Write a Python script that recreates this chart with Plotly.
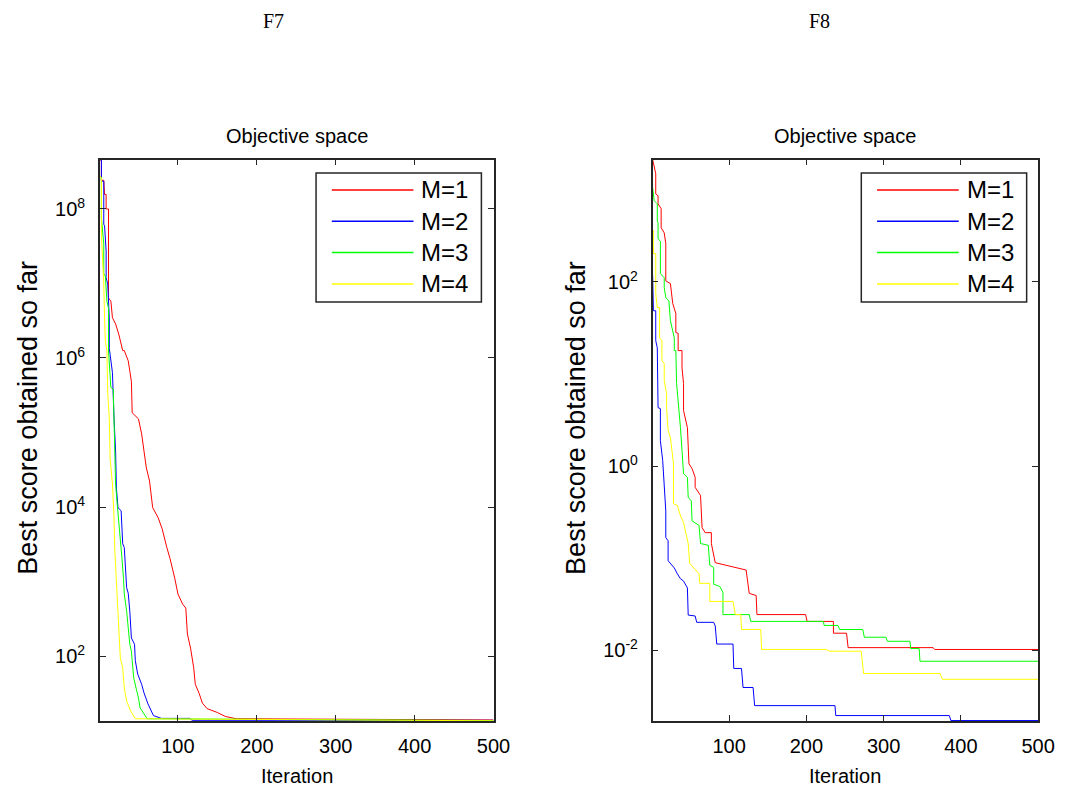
import numpy as np
import plotly.graph_objects as go

W, H = 1076, 797

series_names = ["M=1", "M=2", "M=3", "M=4"]
series_colors = ["#FF0000", "#0000FF", "#00FF00", "#FFFF00"]

# F7: iteration and best score (as log10 exponent)
f7_m1_it = [1, 3, 3, 6, 7, 9, 9, 12, 12, 15, 17, 21, 25, 30, 32, 37, 41, 42, 50, 54, 57, 60,
            64, 68, 75, 80, 86, 90, 96, 100, 106, 110, 112, 116, 120, 122, 127, 131, 137, 150,
            160, 174, 500]
f7_m1_log = [8.664, 8.648, 8.385, 8.385, 8.195, 8.195, 8.000, 8.000, 6.805, 6.762, 6.541, 6.457,
             6.320, 6.099, 6.099, 5.962, 5.688, 5.266, 5.182, 4.982, 4.750, 4.524, 4.350, 3.992,
             3.855, 3.707, 3.454, 3.307, 3.043, 2.833, 2.696, 2.643, 2.295, 2.106, 1.842, 1.621,
             1.495, 1.368, 1.294, 1.242, 1.189, 1.158, 1.142]

f7_m2_it = [1, 3, 3, 6, 6, 7, 9, 9, 11, 12, 13, 13, 15, 17, 19, 21, 22, 24, 28, 30, 32, 35,
            37, 39, 41, 45, 46, 49, 54, 57, 62, 69, 79, 115, 118, 500]
f7_m2_log = [8.664, 8.659, 8.374, 8.374, 7.795, 7.774, 7.437, 7.078, 6.994, 6.762, 6.541, 6.130,
             5.962, 5.804, 5.193, 4.750, 4.255, 3.992, 3.950, 3.507, 3.454, 2.917, 2.843, 2.601,
             2.243, 2.158, 1.937, 1.758, 1.621, 1.505, 1.358, 1.200, 1.163, 1.163, 1.137, 1.137]

f7_m3_it = [1, 3, 3, 5, 6, 6, 8, 10, 12, 12, 15, 18, 19, 21, 23, 26, 29, 31, 32, 35, 39, 41,
            44, 47, 50, 52, 57, 61, 500]
f7_m3_log = [8.448, 8.416, 7.879, 7.611, 7.532, 7.131, 7.100, 6.762, 6.668, 6.099, 5.604, 5.582,
             4.982, 4.308, 4.044, 3.718, 3.317, 3.043, 2.833, 2.601, 2.158, 2.064, 1.705, 1.568,
             1.437, 1.305, 1.221, 1.158, 1.134]

f7_m4_it = [1, 3, 3, 5, 6, 7, 8, 10, 11, 13, 14, 17, 19, 20, 22, 23, 25, 27, 30, 32, 35, 40,
            46, 500]
f7_m4_log = [8.448, 8.416, 7.663, 7.300, 6.994, 6.541, 6.225, 6.099, 5.530, 5.193, 4.655, 4.308,
             3.855, 3.412, 3.043, 2.780, 2.511, 1.974, 1.842, 1.568, 1.395, 1.263, 1.158, 1.131]

# F8
f8_m1_it = [1, 5, 5, 8, 8, 12, 12, 16, 18, 18, 24, 27, 31, 31, 34, 34, 39, 39, 41, 41, 46, 48,
            52, 56, 56, 63, 65, 69, 77, 77, 82, 97, 109, 122, 126, 135, 136, 199, 201, 235,
            235, 252, 254, 364, 366, 500]
f8_m1_log = [3.33, 3.176, 2.956, 2.936, 2.848, 2.796, 2.589, 2.533, 2.415, 2.012, 1.982, 1.766,
             1.657, 1.451, 1.441, 1.254, 1.254, 1.067, 0.895, 0.602, 0.418, 0.024, -0.028,
             -0.123, -0.232, -0.320, -0.669, -0.724, -0.724, -0.842, -1.05, -1.08, -1.10,
             -1.13, -1.383, -1.407, -1.614, -1.614, -1.688, -1.688, -1.816, -1.816, -1.973,
             -1.973, -1.993, -1.993]

f8_m2_it = [1, 2, 5, 5, 7, 8, 11, 11, 14, 16, 18, 18, 21, 21, 29, 33, 37, 41, 46, 47, 56, 58,
            80, 82, 84, 105, 106, 116, 118, 131, 133, 237, 238, 385, 387, 500]
f8_m2_log = [2.071, 1.687, 1.687, 1.362, 1.284, 0.634, 0.624, 0.275, 0.059, -0.300, -0.487,
             -0.778, -0.812, -1.029, -1.107, -1.171, -1.225, -1.250, -1.324, -1.619, -1.629,
             -1.698, -1.698, -1.737, -1.934, -1.934, -2.199, -2.199, -2.406, -2.406, -2.603,
             -2.603, -2.711, -2.711, -2.765, -2.765]

f8_m3_it = [1, 3, 7, 7, 8, 8, 11, 11, 16, 16, 18, 22, 24, 29, 29, 31, 32, 35, 37, 39, 41, 46,
            47, 51, 52, 61, 63, 73, 75, 80, 80, 88, 92, 92, 126, 128, 222, 223, 241, 243, 273,
            275, 303, 305, 334, 335, 346, 347, 500]
f8_m3_log = [3.025, 2.882, 2.848, 2.661, 2.641, 2.469, 2.444, 2.090, 2.046, 1.938, 1.830, 1.795,
             1.579, 1.392, 1.254, 1.254, 0.895, 0.634, 0.418, 0.167, -0.084, -0.123, -0.340,
             -0.379, -0.596, -0.645, -0.842, -0.861, -1.078, -1.102, -1.284, -1.309, -1.373,
             -1.614, -1.614, -1.688, -1.688, -1.732, -1.732, -1.776, -1.776, -1.860, -1.860,
             -1.904, -1.904, -1.983, -1.983, -2.121, -2.121]

f8_m4_it = [1, 2, 2, 5, 5, 7, 10, 10, 13, 13, 16, 16, 19, 19, 21, 24, 28, 28, 33, 36, 41, 45,
            47, 49, 55, 61, 62, 75, 75, 105, 108, 115, 116, 141, 142, 226, 230, 271, 274, 373,
            376, 500]
f8_m4_log = [2.558, 2.558, 2.307, 2.307, 1.874, 1.721, 1.721, 1.392, 1.362, 1.146, 1.112, 0.929,
             0.787, 0.634, 0.385, 0.310, 0.024, -0.409, -0.428, -0.517, -0.615, -0.778, -0.842,
             -1.058, -1.117, -1.171, -1.275, -1.275, -1.471, -1.471, -1.614, -1.614, -1.776,
             -1.776, -1.993, -1.993, -2.012, -2.012, -2.254, -2.254, -2.317, -2.317]

x_ticks = [100, 200, 300, 400, 500]
f7_yticks = [1e2, 1e4, 1e6, 1e8]
f7_yticktext = ["10<sup>2</sup>", "10<sup>4</sup>", "10<sup>6</sup>", "10<sup>8</sup>"]
f8_yticks = [1e-2, 1e0, 1e2]
f8_yticktext = ["10<sup>-2</sup>", "10<sup>0</sup>", "10<sup>2</sup>"]


def px(v):
    return v / W


def py(v):
    return 1 - v / H


SANS = "Liberation Sans, Arial, sans-serif"
SERIF = "Liberation Serif, Times New Roman, serif"

fig = go.Figure()

panels = [
    ("x", "y", [(f7_m1_it, f7_m1_log), (f7_m2_it, f7_m2_log), (f7_m3_it, f7_m3_log), (f7_m4_it, f7_m4_log)]),
    ("x2", "y2", [(f8_m1_it, f8_m1_log), (f8_m2_it, f8_m2_log), (f8_m3_it, f8_m3_log), (f8_m4_it, f8_m4_log)]),
]
for xa, ya, data in panels:
    for (it, lg), name, color in zip(data, series_names, series_colors):
        fig.add_trace(go.Scatter(
            x=it, y=10 ** np.array(lg), mode="lines", name=name,
            line=dict(color=color, width=1), xaxis=xa, yaxis=ya, showlegend=False
        ))

axis_style = dict(
    showline=True, linecolor="#262626", linewidth=1.5, mirror="allticks",
    ticks="inside", ticklen=6, tickcolor="#262626", tickwidth=1,
    showgrid=False, zeroline=False,
    tickfont=dict(family=SANS, size=20, color="#000000"),
)

top_px, bot_px = 151.5, 713
left_dom = [px(93.3), px(493.3)]
right_dom = [px(655), px(1046.7)]
y_dom = [py(bot_px), py(top_px)]

fig.update_layout(
    width=W, height=H,
    paper_bgcolor="white", plot_bgcolor="white",
    margin=dict(l=0, r=0, t=0, b=0),
    showlegend=False,
    xaxis=dict(domain=left_dom, anchor="y", range=[1, 500], tickvals=x_ticks,
               ticklabelstandoff=6, **axis_style),
    yaxis=dict(domain=y_dom, anchor="x", type="log", range=[1.128, 8.664],
               tickvals=f7_yticks, ticktext=f7_yticktext, ticklabelstandoff=9, **axis_style),
    xaxis2=dict(domain=right_dom, anchor="y2", range=[1, 500], tickvals=x_ticks,
                ticklabelstandoff=6, **axis_style),
    yaxis2=dict(domain=y_dom, anchor="x2", type="log", range=[-2.77, 3.33],
                tickvals=f8_yticks, ticktext=f8_yticktext, ticklabelstandoff=9, **axis_style),
)

annotations = []
shapes = []
panel_text = [("F7", left_dom, 270, 20, 313), ("F8", right_dom, 825, 577, 867)]
for title, dom, title_x, ylab_x, leg_left in panel_text:
    cx = (dom[0] + dom[1]) / 2
    common = dict(xref="paper", yref="paper", showarrow=False, xanchor="center", yanchor="middle")
    annotations.append(dict(text=title, x=px(title_x), y=py(13),
                            font=dict(family=SERIF, size=20, color="#000000"), **common))
    annotations.append(dict(text="Objective space", x=cx, y=py(128),
                            font=dict(family=SANS, size=20, color="#000000"), **common))
    annotations.append(dict(text="Iteration", x=cx, y=py(768),
                            font=dict(family=SANS, size=20, color="#000000"), **common))
    annotations.append(dict(text="Best score obtained so far", textangle=-90,
                            x=px(ylab_x), y=py(410),
                            font=dict(family=SANS, size=27, color="#000000"), **common))
    # legend box (drawn like the MATLAB legend)
    shapes.append(dict(type="rect", xref="paper", yref="paper",
                       x0=px(leg_left), x1=px(leg_left + 168), y0=py(294), y1=py(165),
                       line=dict(color="#262626", width=1.5), fillcolor="white"))
    for i, (name, color) in enumerate(zip(series_names, series_colors)):
        yy = py(182 + 31.3 * i)
        shapes.append(dict(type="line", xref="paper", yref="paper",
                           x0=px(leg_left + 16), x1=px(leg_left + 99), y0=yy, y1=yy,
                           line=dict(color=color, width=1.5)))
        annotations.append(dict(text=name, x=px(leg_left + 105), y=yy, xanchor="left",
                                yanchor="middle", xref="paper", yref="paper", showarrow=False,
                                font=dict(family=SANS, size=24, color="#000000")))

fig.update_layout(annotations=annotations, shapes=shapes)

fig.write_html("out.html")
